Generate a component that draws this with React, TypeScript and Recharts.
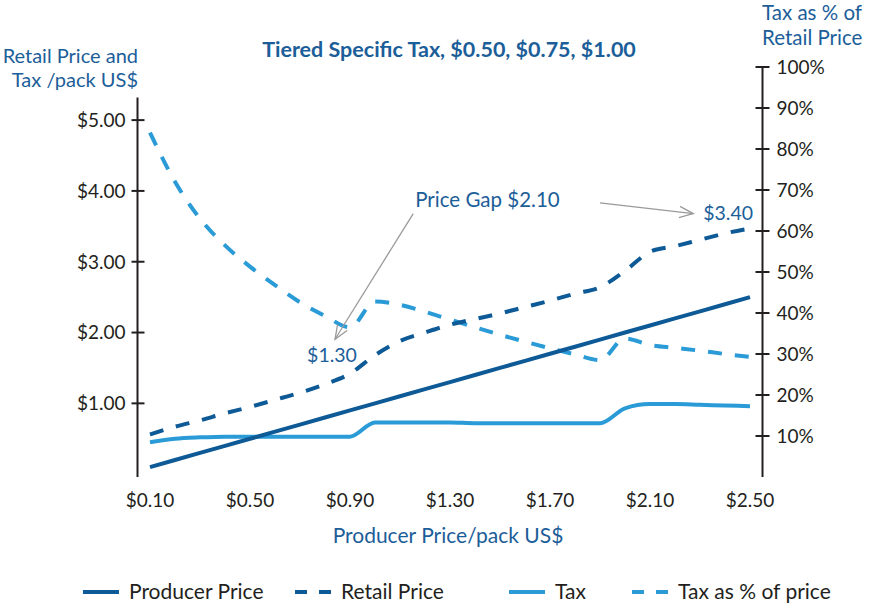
import React from 'react';
import { ComposedChart, Line, XAxis, YAxis, ReferenceLine } from 'recharts';

// ---------- data ----------
const producerPriceX = [0.1, 0.2, 0.3, 0.4, 0.5, 0.6, 0.7, 0.8, 0.9, 1.0, 1.1, 1.2, 1.3, 1.4, 1.5, 1.6, 1.7, 1.8, 1.9, 2.0, 2.1, 2.2, 2.3, 2.4, 2.5];
const producerPrice = [0.1, 0.2, 0.3, 0.4, 0.5, 0.6, 0.7, 0.8, 0.9, 1.0, 1.1, 1.2, 1.3, 1.4, 1.5, 1.6, 1.7, 1.8, 1.9, 2.0, 2.1, 2.2, 2.3, 2.4, 2.5];
const retailPrice = [0.56, 0.67, 0.76, 0.86, 0.95, 1.05, 1.15, 1.27, 1.42, 1.68, 1.88, 2.0, 2.11, 2.19, 2.27, 2.36, 2.45, 2.55, 2.64, 2.87, 3.14, 3.22, 3.31, 3.4, 3.47];
const tax = [0.45, 0.5, 0.52, 0.53, 0.53, 0.53, 0.53, 0.53, 0.53, 0.73, 0.73, 0.73, 0.73, 0.72, 0.72, 0.72, 0.72, 0.72, 0.72, 0.93, 0.99, 0.99, 0.98, 0.97, 0.96];
const taxPct = [84, 72, 63, 56.5, 51.3, 46.8, 42.6, 39.3, 36.5, 42.8, 42.0, 40.3, 38.4, 36.5, 34.7, 33.0, 31.4, 29.9, 28.5, 33.8, 32.2, 31.5, 30.8, 30.0, 29.3];

const xLabelTicks = [0.1, 0.5, 0.9, 1.3, 1.7, 2.1, 2.5];
const xMarkTicks = [0.05, 0.15, 0.25, 0.35, 0.45, 0.55, 0.65, 0.75, 0.85, 0.95, 1.05, 1.15, 1.25, 1.35, 1.45, 1.55, 1.65, 1.75, 1.85, 1.95, 2.05, 2.15, 2.25, 2.35, 2.45, 2.55];
const xDomain = [0.05, 2.55];
const leftTicks = [1, 2, 3, 4, 5];
const leftDomain = [-0.04, 5.75];
const leftAxisTop = 5.32;
const rightTicks = [10, 20, 30, 40, 50, 60, 70, 80, 90, 100];
const rightDomain = [0, 100];

const gapArrow = { from: { x: 1.153, y: 3.68 }, to: { x: 0.84, y: 1.905 } };
const endArrow = { from: { x: 1.9, y: 3.83 }, to: { x: 2.273, y: 3.68 } };

const data = producerPriceX.map((x, i) => ({
  x,
  producer: producerPrice[i],
  retail: retailPrice[i],
  tax: tax[i],
  taxPct: taxPct[i],
}));

// ---------- styles ----------
const DARK = '#0d5a97';
const LIGHT = '#2a9bd7';
const TEXTBLUE = '#1c5e99';
const AXIS = '#231f20';
const GRAY = '#9a9a9a';
const FONT = 'Lato, "Open Sans", sans-serif';
const FS = 19;

const LeftTick = (props: any) => {
  const { x, y, payload } = props;
  return (
    <g>
      <line x1={x - 6} x2={x + 7} y1={y} y2={y} stroke={AXIS} strokeWidth={2} />
      <text x={x - 12} y={y} dy="0.36em" textAnchor="end" fontFamily={FONT} fontSize={FS} fill={AXIS}>
        {'$' + Number(payload.value).toFixed(2)}
      </text>
    </g>
  );
};

const RightTick = (props: any) => {
  const { x, y, payload } = props;
  return (
    <g>
      <line x1={x - 7} x2={x + 7} y1={y} y2={y} stroke={AXIS} strokeWidth={2} />
      <text x={x + 14} y={y} dy="0.36em" textAnchor="start" fontFamily={FONT} fontSize={FS} fill={AXIS}>
        {payload.value + '%'}
      </text>
    </g>
  );
};

const MarkTick = (props: any) => {
  const { x, y } = props;
  return <line x1={x} x2={x} y1={y - 7} y2={y + 6} stroke={AXIS} strokeWidth={2} />;
};

const LabelTick = (props: any) => {
  const { x, y, payload } = props;
  return (
    <text x={x} y={y + 30} textAnchor="middle" fontFamily={FONT} fontSize={FS} fill={AXIS}>
      {'$' + Number(payload.value).toFixed(2)}
    </text>
  );
};

const makeArrow = (label: string, where: 'tail' | 'tip', anchor: string, dx: number, dy: number, fs: number) => (p: any) => {
  const { x1, y1, x2, y2 } = p;
  const ang = Math.atan2(y2 - y1, x2 - x1);
  const len = 15;
  const spread = (22 * Math.PI) / 180;
  const ax = x2 - len * Math.cos(ang - spread);
  const ay = y2 - len * Math.sin(ang - spread);
  const bx = x2 - len * Math.cos(ang + spread);
  const by = y2 - len * Math.sin(ang + spread);
  const tx = (where === 'tail' ? x1 : x2) + dx;
  const ty = (where === 'tail' ? y1 : y2) + dy;
  return (
    <g>
      <line x1={x1} y1={y1} x2={x2} y2={y2} stroke={GRAY} strokeWidth={1.3} />
      <polyline points={`${ax},${ay} ${x2},${y2} ${bx},${by}`} fill="none" stroke={GRAY} strokeWidth={1.3} />
      <text x={tx} y={ty} textAnchor={anchor as any} fontFamily={FONT} fontSize={fs} fill={TEXTBLUE}>
        {label}
      </text>
    </g>
  );
};

const LegendItem = ({ x, color, dashed, label }: any) => (
  <g>
    <line x1={x} x2={x + 36} y1={592} y2={592} stroke={color} strokeWidth={4} strokeDasharray={dashed ? '12 12' : undefined} />
    <text x={x + 46} y={599} fontFamily={FONT} fontSize={21} fill={AXIS}>
      {label}
    </text>
  </g>
);

export default function App() {
  return (
    <div style={{ position: 'absolute', left: 0, top: 0, width: 872, height: 609 }}>
      <ComposedChart
        width={872}
        height={609}
        data={data}
        margin={{ top: 67, right: 49.5, bottom: 102, left: 77.5 }}
      >
        <XAxis
          xAxisId="marks"
          dataKey="x"
          type="number"
          domain={xDomain}
          allowDataOverflow
          ticks={xMarkTicks}
          interval={0}
          height={0}
          tickSize={0}
          tickMargin={0}
          tickLine={false}
          axisLine={{ stroke: AXIS, strokeWidth: 2 }}
          tick={<MarkTick />}
        />
        <XAxis
          xAxisId="lab"
          dataKey="x"
          type="number"
          domain={xDomain}
          allowDataOverflow
          ticks={xLabelTicks}
          interval={0}
          height={30}
          tickSize={0}
          tickMargin={0}
          tickLine={false}
          axisLine={false}
          tick={<LabelTick />}
        />
        <YAxis
          yAxisId="left"
          type="number"
          domain={leftDomain}
          allowDataOverflow
          ticks={leftTicks}
          interval={0}
          width={60}
          tickSize={0}
          tickMargin={0}
          tickLine={false}
          axisLine={false}
          tick={<LeftTick />}
        />
        <YAxis
          yAxisId="right"
          orientation="right"
          type="number"
          domain={rightDomain}
          allowDataOverflow
          ticks={rightTicks}
          interval={0}
          width={60}
          tickSize={0}
          tickMargin={0}
          tickLine={false}
          axisLine={{ stroke: AXIS, strokeWidth: 2 }}
          tick={<RightTick />}
        />
        <ReferenceLine
          xAxisId="lab"
          yAxisId="left"
          ifOverflow="visible"
          segment={[{ x: xDomain[0], y: leftDomain[0] }, { x: xDomain[0], y: leftAxisTop }]}
          stroke={AXIS}
          strokeWidth={2}
        />
        <Line xAxisId="lab" yAxisId="right" type="monotone" dataKey="taxPct" stroke={LIGHT} strokeWidth={4} strokeDasharray="14 13" dot={false} isAnimationActive={false} />
        <Line xAxisId="lab" yAxisId="left" type="monotone" dataKey="tax" stroke={LIGHT} strokeWidth={4} dot={false} isAnimationActive={false} />
        <Line xAxisId="lab" yAxisId="left" type="monotone" dataKey="retail" stroke={DARK} strokeWidth={4} strokeDasharray="14 13" dot={false} isAnimationActive={false} />
        <Line xAxisId="lab" yAxisId="left" type="linear" dataKey="producer" stroke={DARK} strokeWidth={4} dot={false} isAnimationActive={false} />
        <ReferenceLine
          xAxisId="lab"
          yAxisId="left"
          ifOverflow="visible"
          segment={[gapArrow.from, gapArrow.to]}
          shape={makeArrow('Price Gap $2.10', 'tail', 'start', 2, -7, 20.5)}
        />
        <ReferenceLine
          xAxisId="lab"
          yAxisId="left"
          ifOverflow="visible"
          segment={[gapArrow.to, gapArrow.to]}
          shape={(p: any) => (
            <text x={p.x1 - 3} y={p.y1 + 23} textAnchor="middle" fontFamily={FONT} fontSize={19.5} fill={TEXTBLUE}>
              $1.30
            </text>
          )}
        />
        <ReferenceLine
          xAxisId="lab"
          yAxisId="left"
          ifOverflow="visible"
          segment={[endArrow.from, endArrow.to]}
          shape={makeArrow('$3.40', 'tip', 'start', 10, 6, 19.5)}
        />
      </ComposedChart>
      <svg width={872} height={609} style={{ position: 'absolute', left: 0, top: 0, pointerEvents: 'none' }}>
        <text x={449} y={57} textAnchor="middle" fontFamily={FONT} fontSize={21.5} fontWeight="bold" fill={TEXTBLUE}>
          Tiered Specific Tax, $0.50, $0.75, $1.00
        </text>
        <text x={138} y={63} textAnchor="end" fontFamily={FONT} fontSize={20} fill={TEXTBLUE}>Retail Price and</text>
        <text x={138} y={87} textAnchor="end" fontFamily={FONT} fontSize={20} fill={TEXTBLUE}>Tax /pack US$</text>
        <text x={762} y={20} textAnchor="start" fontFamily={FONT} fontSize={20.5} fill={TEXTBLUE}>Tax as % of</text>
        <text x={762} y={45} textAnchor="start" fontFamily={FONT} fontSize={20.5} fill={TEXTBLUE}>Retail Price</text>
        <text x={448} y={543} textAnchor="middle" fontFamily={FONT} fontSize={21} fill={TEXTBLUE}>Producer Price/pack US$</text>
        <LegendItem x={83} color={DARK} label="Producer Price" />
        <LegendItem x={295} color={DARK} dashed label="Retail Price" />
        <LegendItem x={509} color={LIGHT} label="Tax" />
        <LegendItem x={632} color={LIGHT} dashed label="Tax as % of price" />
      </svg>
    </div>
  );
}
